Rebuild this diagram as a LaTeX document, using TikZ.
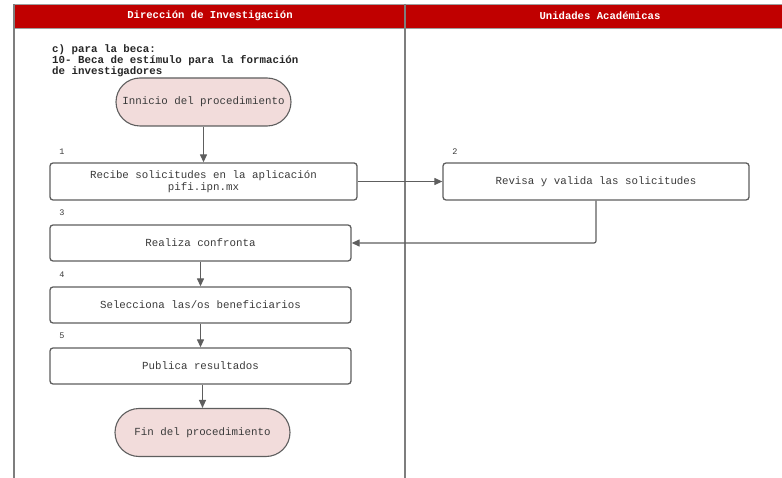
\documentclass[tikz,border=0pt]{standalone}
\usepackage{fontspec}
\setmonofont{Liberation Mono}
\usetikzlibrary{arrows.meta,shapes.misc}
\definecolor{hdr}{HTML}{C00000}
\definecolor{ln}{HTML}{5E5E5E}
\definecolor{txt}{HTML}{3A3A3A}
\definecolor{pinkf}{HTML}{F2DCDB}
\tikzset{
  stepbox/.style={draw=ln, line width=1.3pt, rounded corners=3pt, fill=white,
    text=txt, font=\ttfamily\fontsize{10.8}{12}\selectfont, align=center,
    inner sep=0pt},
  term/.style={rounded rectangle, draw=ln, line width=1.1pt, fill=pinkf,
    text=txt, font=\ttfamily\fontsize{10.8}{12}\selectfont,
    minimum width=175pt, minimum height=48pt, inner sep=0pt},
  num/.style={font=\ttfamily\fontsize{8.5}{9}\selectfont, text=txt, inner sep=0pt},
  flow/.style={draw=ln, line width=1.2pt, rounded corners=2pt,
    -{Triangle[length=8pt,width=7pt]}},
  hdrtext/.style={text=white, font=\ttfamily\bfseries\fontsize{10.6}{12}\selectfont},
}
\begin{document}
\begin{tikzpicture}[x=1pt,y=-1pt]
\useasboundingbox (0,0) rectangle (782,478);
% header band and lanes
\fill[hdr] (14,4) rectangle (782,28);
\draw[ln!60, line width=0.8pt] (14,4) -- (782,4);
\draw[ln!60, line width=0.8pt] (14,28) -- (782,28);
\draw[ln!80, line width=1.6pt] (14,4) -- (14,478);
\draw[ln!80, line width=2.2pt] (405,4) -- (405,478);
\node[hdrtext] (h1) at (210,16) {Dirección de Investigación};
\node[hdrtext] (h2) at (600,16) {Unidades Académicas};
% intro text
\node[anchor=north west, align=left, inner sep=0pt, text=black!85,
  font=\ttfamily\bfseries\fontsize{10.8}{11}\selectfont] (intro) at (52,44)
  {c) para la beca:\\10- Beca de estímulo para la formación\\de investigadores};
% nodes
\node[term] (start) at (203.5,102) {Innicio del procedimiento};
\node[stepbox, minimum width=307pt, minimum height=37pt] (b1) at (203.5,181.5)
  {Recibe solicitudes en la aplicación\\pifi.ipn.mx};
\node[stepbox, minimum width=306pt, minimum height=37pt] (b2) at (596,181.5)
  {Revisa y valida las solicitudes};
\node[stepbox, minimum width=301pt, minimum height=36pt] (b3) at (200.5,243)
  {Realiza confronta};
\node[stepbox, minimum width=301pt, minimum height=36pt] (b4) at (200.5,305)
  {Selecciona las/os beneficiarios};
\node[stepbox, minimum width=301pt, minimum height=36pt] (b5) at (200.5,366)
  {Publica resultados};
\node[term] (end) at (202.5,432.5) {Fin del procedimiento};
% numbers
\node[num] (n1) at (62,152) {1};
\node[num] (n2) at (455,152) {2};
\node[num] (n3) at (62,213) {3};
\node[num] (n4) at (62,275) {4};
\node[num] (n5) at (62,336) {5};
% connectors
\draw[flow] (start.south) -- (b1.north -| start.south);
\draw[flow] (b1.east) -- (b2.west);
\draw[flow] (b2.south) |- (b3.east);
\draw[flow] (b3.south) -- (b4.north);
\draw[flow] (b4.south) -- (b5.north);
\draw[flow] (b5.south -| end.north) -- (end.north);
\end{tikzpicture}
\end{document}
